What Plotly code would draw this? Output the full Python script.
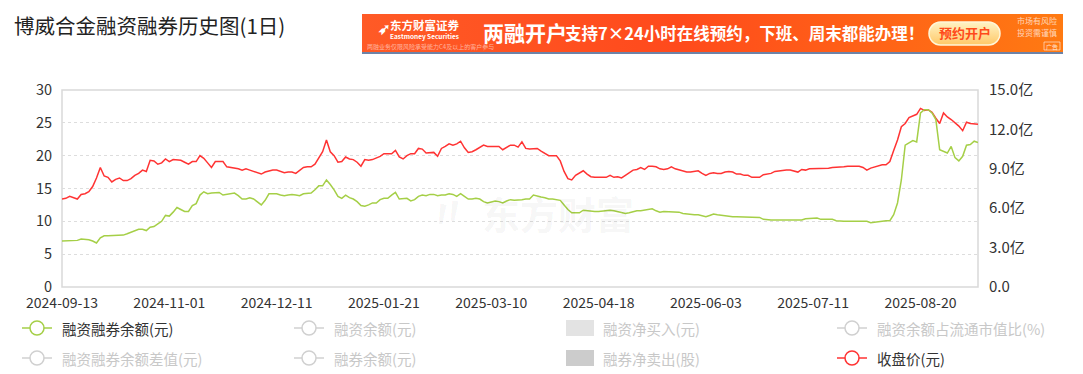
import base64
import pandas as pd
import plotly.graph_objects as go

# ---------------- data ----------------
start_date = "2024-09-13"
n_points = 240
cn_holidays = [
    "2024-09-16", "2024-09-17", "2024-10-01", "2024-10-02", "2024-10-03", "2024-10-04", "2024-10-07",
    "2025-01-01", "2025-01-28", "2025-01-29", "2025-01-30", "2025-01-31", "2025-02-03", "2025-02-04",
    "2025-04-04", "2025-05-01", "2025-05-02", "2025-05-05", "2025-06-02",
]
trade_days = pd.bdate_range(start_date, "2025-12-31", freq="C", holidays=cn_holidays)
dates = [d.strftime("%Y-%m-%d") for d in trade_days[:n_points]]

tick_labels = ["2024-09-13", "2024-11-01", "2024-12-11", "2025-01-21", "2025-03-10",
               "2025-04-18", "2025-06-03", "2025-07-11", "2025-08-20"]

# 收盘价(元)
close_price = [
    13.4, 13.5, 13.8, 13.6, 13.4, 14.1, 14.2, 14.5, 15.3, 16.6,
    18.2, 16.9, 16.7, 16.0, 16.4, 16.6, 16.2, 16.2, 16.5, 17.0,
    17.3, 17.8, 17.6, 19.3, 19.2, 18.7, 18.9, 19.5, 19.1, 19.4,
    19.4, 19.3, 19.0, 18.7, 19.1, 19.1, 20.0, 19.6, 18.9, 18.2,
    19.1, 19.1, 19.1, 18.3, 18.2, 18.2, 18.0, 17.8, 18.0, 17.8,
    17.6, 17.4, 17.2, 17.5, 17.7, 17.8, 17.8, 17.6, 17.4, 17.5,
    17.5, 17.3, 17.8, 18.2, 18.3, 18.3, 18.7, 19.6, 20.6, 22.4,
    20.6, 20.0, 19.0, 19.1, 19.8, 19.5, 19.4, 19.0, 18.4, 19.4,
    19.3, 19.4, 19.6, 19.9, 20.3, 20.3, 20.3, 20.8, 19.8, 19.5,
    20.0, 20.3, 20.3, 21.1, 21.0, 20.4, 20.5, 20.5, 19.9, 21.1,
    21.4, 21.8, 21.6, 21.8, 22.2, 21.2, 20.5, 20.6, 20.9, 21.2,
    21.6, 21.4, 21.4, 21.4, 21.4, 20.9, 21.3, 21.6, 21.6, 21.3,
    22.1, 21.1, 21.0, 21.1, 21.1, 20.7, 20.4, 20.0, 20.0, 20.0,
    19.2, 17.6, 16.5, 16.3, 17.0, 17.3, 17.7, 17.2, 16.8, 16.7,
    16.7, 16.7, 16.7, 17.0, 16.7, 16.8, 16.6, 17.0, 17.4, 17.8,
    17.9, 18.2, 17.9, 18.4, 18.4, 18.3, 18.0, 17.9, 18.0, 18.3,
    18.0, 17.8, 17.6, 17.5, 17.5, 17.6, 17.7, 17.3, 17.0, 17.3,
    17.4, 17.3, 17.3, 17.5, 17.6, 17.5, 17.2, 17.2, 17.0, 17.0,
    16.7, 16.7, 16.7, 17.1, 17.2, 17.3, 17.6, 17.7, 17.7, 17.8,
    17.8, 17.6, 17.5, 17.9, 17.8, 18.0, 18.0, 18.0, 18.0, 18.0,
    18.1, 18.2, 18.2, 18.2, 18.3, 18.4, 18.4, 18.4, 18.4, 18.2,
    17.8, 18.1, 18.3, 18.5, 18.6, 18.6, 19.1, 20.8, 22.4, 24.4,
    24.9, 25.8, 26.0, 26.3, 27.2, 26.9, 27.0, 26.6, 25.7, 24.9,
    26.5, 25.9, 25.5, 25.0, 24.5, 23.8, 25.1, 24.9, 24.9, 24.8,
]

# 融资融券余额(亿元)
margin_balance = [
    3.50, 3.50, 3.50, 3.50, 3.55, 3.65, 3.65, 3.60, 3.50, 3.35,
    3.75, 3.90, 3.90, 3.90, 3.95, 3.95, 3.95, 4.05, 4.15, 4.30,
    4.40, 4.40, 4.30, 4.55, 4.60, 4.80, 5.00, 5.45, 5.40, 5.70,
    6.05, 5.90, 5.75, 5.75, 6.20, 6.35, 7.00, 7.25, 7.10, 7.15,
    7.20, 7.20, 7.00, 7.05, 7.10, 7.15, 6.95, 6.70, 6.70, 6.80,
    6.70, 6.50, 6.25, 6.60, 7.10, 7.10, 7.10, 7.00, 6.95, 7.00,
    7.05, 7.00, 6.95, 7.10, 7.10, 7.15, 7.40, 7.70, 7.70, 8.15,
    7.80, 7.40, 6.90, 6.75, 7.00, 6.80, 6.70, 6.50, 6.20, 6.15,
    6.25, 6.40, 6.40, 6.65, 6.75, 6.75, 7.00, 7.20, 6.70, 6.70,
    6.75, 6.55, 6.65, 6.90, 7.00, 6.95, 7.05, 7.05, 6.95, 7.00,
    7.00, 7.10, 7.05, 6.90, 7.10, 6.90, 6.70, 6.70, 6.75, 6.70,
    6.50, 6.40, 6.45, 6.55, 6.50, 6.40, 6.55, 6.65, 6.60, 6.60,
    6.65, 6.70, 6.70, 7.00, 6.90, 6.85, 6.80, 6.70, 6.70, 6.65,
    6.60, 6.25, 5.90, 5.65, 5.65, 5.65, 5.85, 5.80, 5.75, 5.75,
    5.75, 5.80, 5.85, 5.85, 5.80, 5.75, 5.70, 5.60, 5.65, 5.75,
    5.80, 5.80, 5.85, 5.85, 5.95, 5.80, 5.70, 5.75, 5.75, 5.75,
    5.75, 5.70, 5.60, 5.55, 5.55, 5.50, 5.50, 5.45, 5.35, 5.45,
    5.55, 5.50, 5.45, 5.40, 5.40, 5.35, 5.35, 5.35, 5.30, 5.30,
    5.30, 5.30, 5.30, 5.15, 5.10, 5.10, 5.10, 5.10, 5.05, 5.05,
    5.05, 5.05, 5.05, 5.10, 5.20, 5.20, 5.25, 5.25, 5.15, 5.15,
    5.15, 5.15, 5.05, 5.00, 5.00, 5.00, 5.00, 4.95, 4.95, 5.00,
    5.00, 4.90, 4.95, 5.00, 5.00, 5.05, 5.05, 5.50, 6.40, 8.15,
    10.80, 10.95, 11.15, 11.05, 13.25, 13.50, 13.50, 13.25, 12.75, 10.45,
    10.30, 10.20, 10.70, 9.85, 9.60, 9.95, 10.80, 10.85, 11.10, 11.00,
]

left_ticks = [0, 5, 10, 15, 20, 25, 30]
right_ticks = [0, 3, 6, 9, 12, 15]
right_tick_text = ["0.0", "3.0亿", "6.0亿", "9.0亿", "12.0亿", "15.0亿"]

legend_items = [
    # (label, kind, color, text color, column x(px), row y(px))
    ("融资融券余额(元)", "line", "#a5cf47", "#333333", 37, 328),
    ("融资余额(元)", "line", "#d0d0d0", "#c8c8c8", 309, 328),
    ("融资净买入(元)", "box", "#e3e3e3", "#c8c8c8", 580, 328),
    ("融资余额占流通市值比(%)", "line", "#d0d0d0", "#c8c8c8", 852, 328),
    ("融资融券余额差值(元)", "line", "#d0d0d0", "#c8c8c8", 37, 358),
    ("融券余额(元)", "line", "#d0d0d0", "#c8c8c8", 309, 358),
    ("融券净卖出(股)", "box", "#cccccc", "#c8c8c8", 580, 358),
    ("收盘价(元)", "line", "#ff3333", "#333333", 852, 358),
]

# ---------------- layout geometry ----------------
W, H = 1083, 374
L, R, T, B = 62, 105, 90, 87
PW, PH = W - L - R, H - T - B
FONT = "Microsoft YaHei, Noto Sans CJK SC, sans-serif"


def px(x):
    return (x - L) / PW


def py(y):
    return (H - B - y) / PH


RED = "#ff3333"
GREEN = "#a5cf47"

fig = go.Figure()
fig.add_trace(go.Scatter(x=dates, y=close_price, mode="lines", name="收盘价(元)",
                         line=dict(color=RED, width=1.5), yaxis="y", hoverinfo="skip"))
fig.add_trace(go.Scatter(x=dates, y=margin_balance, mode="lines", name="融资融券余额(元)",
                         line=dict(color=GREEN, width=1.5), yaxis="y2", hoverinfo="skip"))

shapes = []
annotations = []
images = []

# plot border
shapes.append(dict(type="rect", xref="paper", yref="paper", x0=0, x1=1, y0=0, y1=1,
                   line=dict(color="#d9d9d9", width=1.5), layer="below"))

# title
annotations.append(dict(text="博威合金融资融券历史图(1日)", x=px(12), y=py(25), xref="paper", yref="paper",
                        xanchor="left", yanchor="middle", showarrow=False,
                        font=dict(size=20.5, color="#222222", family=FONT)))

# watermark
annotations.append(dict(text="<b>东方财富</b>", x=px(558), y=py(212), xref="paper", yref="paper",
                        xanchor="center", yanchor="middle", showarrow=False,
                        font=dict(size=38, color="rgba(0,0,0,0.055)", family=FONT)))
annotations.append(dict(text="<b>〃</b>", x=px(448), y=py(210), xref="paper", yref="paper",
                        xanchor="center", yanchor="middle", showarrow=False, textangle=-15,
                        font=dict(size=40, color="rgba(0,0,0,0.05)", family=FONT)))

# banner background (gradient via svg image)
bx0, bx1, by0, by1 = 362, 1063, 14, 52
svg = ('<svg xmlns="http://www.w3.org/2000/svg" width="701" height="38" preserveAspectRatio="none">'
       '<defs><linearGradient id="g" x1="0" x2="1" y1="0" y2="0">'
       '<stop offset="0" stop-color="#ff5a26"/><stop offset="0.45" stop-color="#ff4a1c"/>'
       '<stop offset="1" stop-color="#ff7a12"/></linearGradient>'
       '<linearGradient id="b" x1="0" x2="0" y1="0" y2="1">'
       '<stop offset="0" stop-color="#fff3c4"/><stop offset="1" stop-color="#ffc867"/></linearGradient></defs>'
       '<rect width="701" height="38" fill="url(#g)"/>'
       '<rect x="567" y="8" width="71" height="23" rx="11.5" fill="url(#b)" stroke="#fff6d8" stroke-width="1.5"/>'
       '</svg>')
svg_uri = "data:image/svg+xml;base64," + base64.b64encode(svg.encode()).decode()
images.append(dict(source=svg_uri, xref="paper", yref="paper", x=px(bx0), y=py(by0),
                   sizex=px(bx1) - px(bx0), sizey=py(by0) - py(by1), sizing="stretch",
                   xanchor="left", yanchor="top", layer="above"))
shapes.append(dict(type="line", xref="paper", yref="paper", x0=px(bx0), x1=px(bx1), y0=py(53), y1=py(53),
                   line=dict(color="#3d5a8a", width=1.5)))


def banner_text(text, x, y, size, color="#ffffff", anchor="left", bold=False):
    t = f"<b>{text}</b>" if bold else text
    annotations.append(dict(text=t, x=px(x), y=py(y), xref="paper", yref="paper",
                            xanchor=anchor, yanchor="middle", showarrow=False,
                            font=dict(size=size, color=color, family=FONT)))


banner_text("➶", 376, 27, 15, bold=True)
banner_text("东方财富证券", 388, 25, 11.5, bold=True)
banner_text("Eastmoney Securities", 388, 36, 6.5, bold=True)
banner_text("两融业务仅限风险承受能力C4及以上的客户参与", 365, 47, 6, color="rgba(255,255,255,0.55)")
banner_text("两融开户", 481, 32, 21, bold=True)
banner_text("支持7×24小时在线预约，下班、周末都能办理！", 563, 33, 16.5, bold=True)
banner_text("预约开户", 965, 33, 13, color="#ff4a1a", anchor="center", bold=True)
banner_text("市场有风险", 1037, 21, 8, color="rgba(255,255,255,0.7)", anchor="center")
banner_text("投资需谨慎", 1037, 33, 8, color="rgba(255,255,255,0.7)", anchor="center")
shapes.append(dict(type="rect", xref="paper", yref="paper", x0=px(1044), x1=px(1060), y0=py(50), y1=py(42),
                   line=dict(color="rgba(255,255,255,0.7)", width=0.8)))
banner_text("广告", 1052, 46, 6, color="rgba(255,255,255,0.8)", anchor="center")

# custom legend
for label, kind, color, tcolor, cx, cy in legend_items:
    if kind == "line":
        shapes.append(dict(type="line", xref="paper", yref="paper", x0=px(cx - 15), x1=px(cx + 15),
                           y0=py(cy), y1=py(cy), line=dict(color=color, width=1.5)))
        shapes.append(dict(type="circle", xref="paper", yref="paper", x0=px(cx - 7), x1=px(cx + 7),
                           y0=py(cy + 7), y1=py(cy - 7), fillcolor="white",
                           line=dict(color=color, width=1.5)))
        tx = cx + 23
    else:
        shapes.append(dict(type="rect", xref="paper", yref="paper", x0=px(cx - 14), x1=px(cx + 14),
                           y0=py(cy + 8), y1=py(cy - 8), fillcolor=color,
                           line=dict(color=color, width=0)))
        tx = cx + 21
    annotations.append(dict(text=label, x=px(tx), y=py(cy), xref="paper", yref="paper",
                            xanchor="left", yanchor="middle", showarrow=False,
                            font=dict(size=14.5, color=tcolor, family=FONT)))

fig.update_layout(
    width=W, height=H,
    margin=dict(l=L, r=R, t=T, b=B, pad=0),
    paper_bgcolor="white", plot_bgcolor="white",
    showlegend=False,
    font=dict(family=FONT, color="#333333", size=14),
    xaxis=dict(type="category", range=[0, n_points - 1], tickmode="array",
               tickvals=tick_labels, ticktext=tick_labels, showgrid=False, zeroline=False,
               showline=False, ticks="", tickfont=dict(size=14, color="#333333"),
               ticklabelstandoff=6),
    yaxis=dict(range=[0, 30], tickmode="array", tickvals=left_ticks, showgrid=True,
               gridcolor="#dddddd", griddash="dot", gridwidth=1, zeroline=False, showline=False,
               ticks="", tickfont=dict(size=14.5, color="#333333"), ticklabelstandoff=9),
    yaxis2=dict(range=[0, 15], overlaying="y", side="right", tickmode="array",
                tickvals=right_ticks, ticktext=right_tick_text, showgrid=False, zeroline=False,
                showline=False, ticks="", tickfont=dict(size=15, color="#333333"),
                ticklabelstandoff=10),
    shapes=shapes, annotations=annotations, images=images,
)

fig.write_html(
    "out.html",
    config={"displayModeBar": False},
    post_script="document.body.style.margin='0';document.body.style.overflow='hidden';",
)
